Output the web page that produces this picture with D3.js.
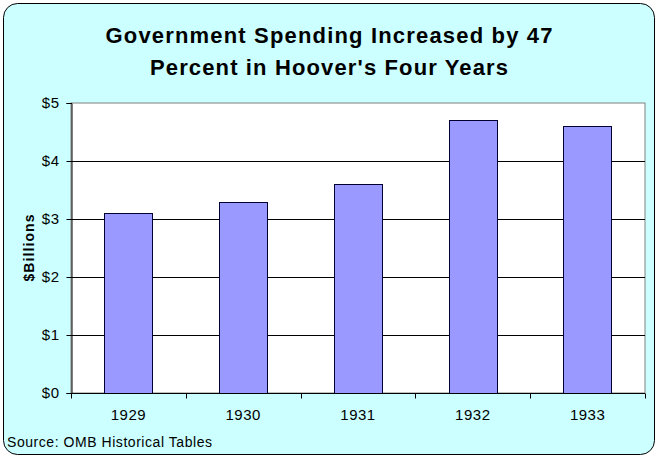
<!DOCTYPE html>
<html>
<head>
<meta charset="utf-8" />
<title>Government Spending under Hoover</title>
<style>
html, body {
	margin: 0px;
	padding: 0px;
	background: #fff;
}
svg text { font-family: Arial, "Liberation Sans", sans-serif; }
</style>
</head>
<body>
<svg id="chart" width="658" height="458"></svg>

<script src="https://d3js.org/d3.v7.min.js"></script>
<script>

// data
var years = ["1929", "1930", "1931", "1932", "1933"];
var spending = [3.1, 3.3, 3.6, 4.7, 4.6];
var yTicks = [0, 1, 2, 3, 4, 5];
var titleLines = ["Government Spending Increased by 47", "Percent in Hoover's Four Years"];

var svg = d3.select("#chart");

// outer frame
svg.append("rect")
	.attr("x", 3.5).attr("y", 3.5)
	.attr("width", 651).attr("height", 451)
	.attr("rx", 14).attr("ry", 14)
	.attr("fill", "#ccffff")
	.attr("stroke", "#000")
	.attr("stroke-width", 1);

var plot = {left: 71, top: 103, right: 645, bottom: 393};

var x = d3.scaleBand()
	.domain(years)
	.range([plot.left, plot.right])
	.paddingInner(0.58)
	.paddingOuter(0.29);

var y = d3.scaleLinear()
	.domain([0, 5])
	.range([plot.bottom, plot.top]);

// plot background
svg.append("rect")
	.attr("x", plot.left).attr("y", plot.top)
	.attr("width", plot.right - plot.left)
	.attr("height", plot.bottom - plot.top)
	.attr("fill", "#fff")
	.attr("stroke", "#808080");

// gridlines
svg.append("g")
	.selectAll("line")
	.data(yTicks.filter(function(d){ return d > 0 && d < 5; }))
	.enter()
	.append("line")
		.attr("x1", plot.left).attr("x2", plot.right)
		.attr("y1", function(d){ return Math.round(y(d)) + 0.5; })
		.attr("y2", function(d){ return Math.round(y(d)) + 0.5; })
		.attr("stroke", "#000");

// bars
svg.append("g")
	.selectAll("rect")
	.data(spending)
	.enter()
	.append("rect")
		.attr("x", function(d, i){ return Math.round(x(years[i])) + 0.5; })
		.attr("y", function(d){ return Math.round(y(d)) + 0.5; })
		.attr("width", Math.round(x.bandwidth()))
		.attr("height", function(d){ return Math.round(y(0)) - Math.round(y(d)); })
		.attr("fill", "#9999ff")
		.attr("stroke", "#000033");

// y axis
var yAxis = d3.axisLeft(y)
	.tickValues(yTicks)
	.tickSize(5)
	.tickPadding(7)
	.tickFormat(function(d){ return "$" + d; });

var gy = svg.append("g")
	.attr("transform", "translate(" + (plot.left + 0.5) + ",0)")
	.call(yAxis);
gy.select(".domain").attr("stroke", "#000");
gy.selectAll("text")
	.style("font-size", "15px")
	.style("letter-spacing", "0.5px")
	.attr("fill", "#000");

// x axis: ticks between categories
var gx = svg.append("g")
	.attr("transform", "translate(0," + (plot.bottom + 0.5) + ")");
gx.append("line")
	.attr("x1", plot.left).attr("x2", plot.right)
	.attr("stroke", "#000");
var step = x.step();
gx.selectAll(".tick")
	.data(d3.range(years.length + 1))
	.enter()
	.append("line")
		.attr("x1", function(i){ return Math.round(plot.left + i * step) + 0.5; })
		.attr("x2", function(i){ return Math.round(plot.left + i * step) + 0.5; })
		.attr("y1", 0).attr("y2", 5)
		.attr("stroke", "#000");
gx.selectAll("text")
	.data(years)
	.enter()
	.append("text")
		.attr("x", function(d){ return x(d) + x.bandwidth() / 2; })
		.attr("y", 26)
		.attr("text-anchor", "middle")
		.style("font-size", "15px")
		.style("letter-spacing", "0.5px")
		.text(function(d){ return d; });

// y axis title
svg.append("text")
	.attr("transform", "translate(34," + ((plot.top + plot.bottom) / 2) + ") rotate(-90)")
	.attr("text-anchor", "middle")
	.style("font-size", "14px")
	.attr("font-weight", "bold")
	.attr("textLength", 67)
	.attr("lengthAdjust", "spacing")
	.text("$Billions");

// chart title
svg.append("g")
	.selectAll("text")
	.data(titleLines)
	.enter()
	.append("text")
		.attr("x", 329)
		.attr("y", function(d, i){ return 43 + i * 32; })
		.attr("text-anchor", "middle")
		.style("font-size", "22px")
		.attr("font-weight", "bold")
		.attr("textLength", function(d, i){ return i === 0 ? 447 : 358; })
		.attr("lengthAdjust", "spacing")
		.text(function(d){ return d; });

// source note
svg.append("text")
	.attr("x", 7)
	.attr("y", 447)
	.style("font-size", "14px")
	.attr("textLength", 205)
	.attr("lengthAdjust", "spacing")
	.text("Source: OMB Historical Tables");

</script>
</body>
</html>
